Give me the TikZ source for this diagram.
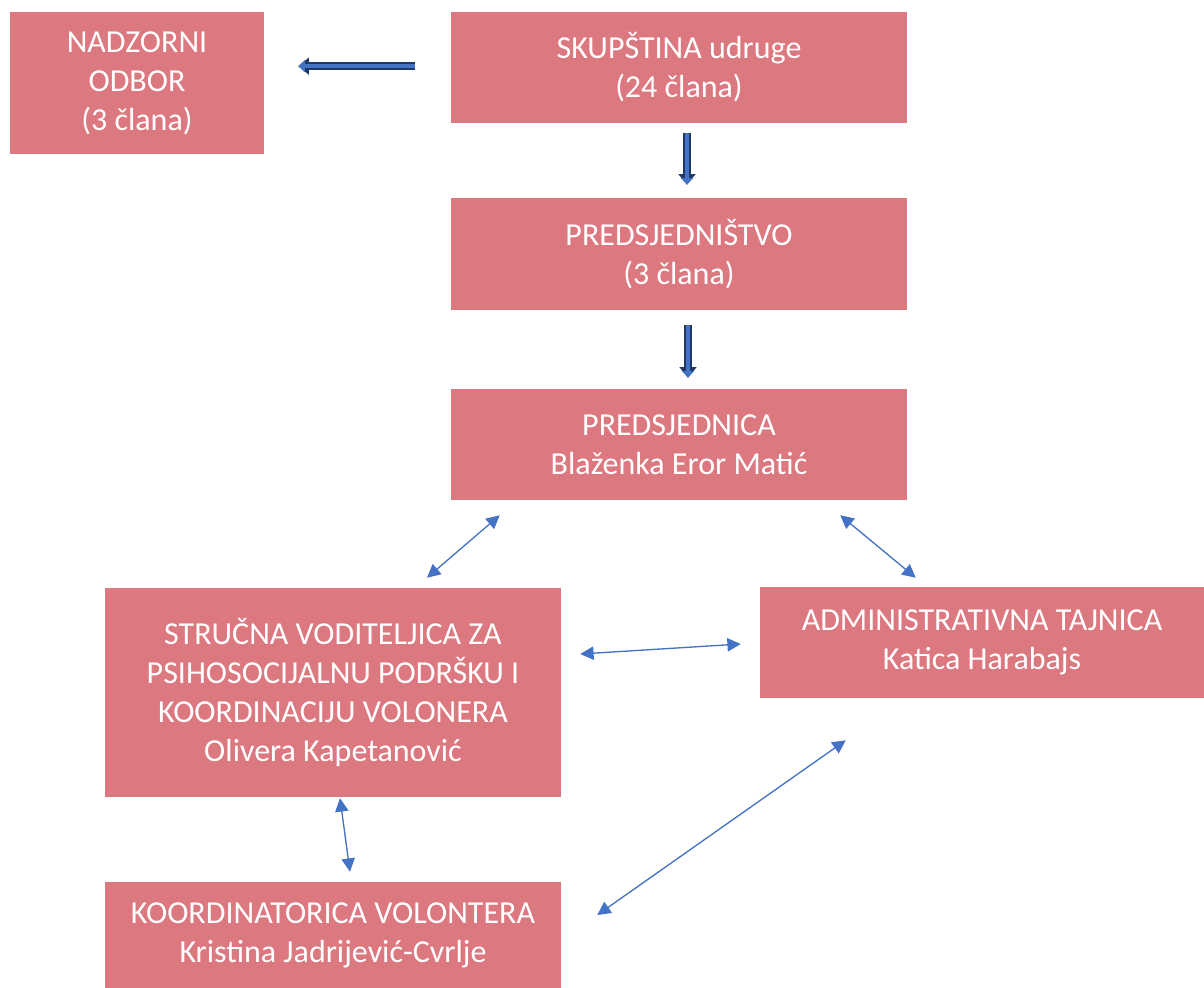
\documentclass[tikz,border=0pt]{standalone}
\usepackage{fontspec}
\setmainfont{Carlito}
\usepackage{tikz}
\usetikzlibrary{arrows.meta}
\definecolor{boxpink}{RGB}{220,120,128}
\definecolor{linkblue}{RGB}{68,114,196}
\definecolor{navyline}{RGB}{32,56,100}

\begin{document}
\begin{tikzpicture}
            [x=0.75pt, y=-0.75pt,
             orgbox/.style={fill=boxpink, text=white, align=center, inner sep=0pt,
                            font=\fontsize{24}{29.25}\selectfont},
             link/.style={draw=linkblue, line width=1pt,
                          {Triangle[length=10pt,width=10pt]}-{Triangle[length=10pt,width=10pt]}},
             bigarrow/.style={draw=linkblue, line width=3pt, -{Triangle[length=5pt,width=9pt]}, shorten >=1.2pt,
                              preaction={draw=navyline, line width=5.5pt, -{Triangle[length=8pt,width=12.5pt]}}}]
            \useasboundingbox (0, 0) rectangle (1204, 988);
            \node [orgbox, minimum width=190.5pt, minimum height=106.5pt] (nadzor) at (137, 83) {NADZORNI\\ODBOR\\(3 člana)};
            \node [orgbox, minimum width=342pt, minimum height=83.25pt] (skup) at (679, 67.5) {SKUPŠTINA udruge\\(24 člana)};
            \node [orgbox, minimum width=342pt, minimum height=84pt] (predsj) at (679, 254) {PREDSJEDNIŠTVO\\(3 člana)};
            \node [orgbox, minimum width=342pt, minimum height=83.25pt] (predsjednica) at (679, 444.5) {PREDSJEDNICA\\Blaženka Eror Matić};
            \node [orgbox, minimum width=342pt, minimum height=156.75pt] (strucna) at (333, 692.5) {STRUČNA VODITELJICA ZA\\PSIHOSOCIJALNU PODRŠKU I\\KOORDINACIJU VOLONERA\\Olivera Kapetanović};
            \node [orgbox, minimum width=333pt, minimum height=83.25pt] (admin) at (982, 642.5) {ADMINISTRATIVNA TAJNICA\\Katica Harabajs};
            \node [orgbox, minimum width=342pt, minimum height=79.5pt] (koord) at (333, 935) {KOORDINATORICA VOLONTERA\\Kristina Jadrijević-Cvrlje};

            % free ends of the thin links
            \coordinate (l1a) at ([shift={(49, 15)}]predsjednica.south west);
            \coordinate (l1b) at ([shift={(94, -10)}]strucna.north);
            \coordinate (l2a) at ([shift={(-67, 15)}]predsjednica.south east);
            \coordinate (l2b) at ([shift={(156, -9)}]admin.north west);
            \coordinate (l3a) at ([shift={(19, -38.5)}]strucna.east);
            \coordinate (l3b) at ([shift={(-19, 1.5)}]admin.west);
            \coordinate (l4a) at ([shift={(7, 1)}]strucna.south);
            \coordinate (l4b) at ([shift={(17, -10)}]koord.north);
            \coordinate (l5a) at ([shift={(86, 42)}]admin.south west);
            \coordinate (l5b) at ([shift={(36, -20)}]koord.east);

            \draw [bigarrow, shorten <=27pt, shorten >=25.5pt] ([yshift=1pt]skup.west) -- ([yshift=1pt]skup.west -| nadzor.east);
            \draw [bigarrow, shorten <=7.5pt, shorten >=9.75pt] ([xshift=6pt]skup.south) -- ([xshift=6pt]predsj.north);
            \draw [bigarrow, shorten <=11.25pt, shorten >=8.25pt] ([xshift=6.75pt]predsj.south) -- ([xshift=6.75pt]predsjednica.north);

            \draw [link] (l1a) -- (l1b);
            \draw [link] (l2a) -- (l2b);
            \draw [link] (l3a) -- (l3b);
            \draw [link] (l4a) -- (l4b);
            \draw [link] (l5a) -- (l5b);
        \end{tikzpicture}
\end{document}
